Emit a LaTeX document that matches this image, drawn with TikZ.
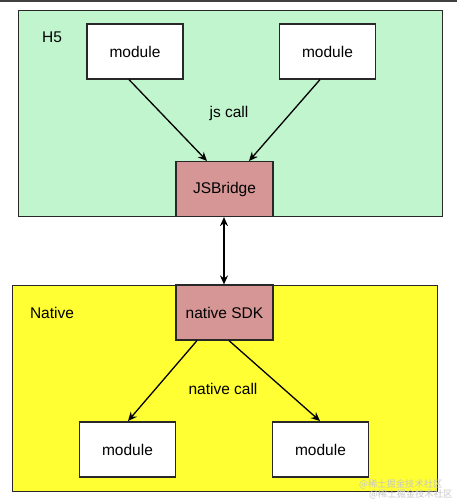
\documentclass[tikz,border=0pt]{standalone}
\usepackage{fontspec}
\setmainfont{Liberation Sans}
\newfontfamily\cjk{Noto Sans CJK SC}
\usetikzlibrary{arrows.meta}
\definecolor{hgreen}{RGB}{192,245,205}
\definecolor{nyellow}{RGB}{255,255,51}
\definecolor{bpink}{RGB}{214,150,150}
\definecolor{edgec}{RGB}{40,40,40}
\tikzset{
  region/.style={draw=edgec, line width=1.3pt, anchor=north west},
  modbox/.style={draw=edgec, fill=white, line width=1.2pt, minimum width=96pt, minimum height=55pt, inner sep=0pt, font=\fontsize{15.5}{18}\selectfont},
  bridgebox/.style={modbox, fill=bpink, minimum width=97pt},
  lbl/.style={font=\fontsize{15.5}{18}\selectfont, inner sep=0pt},
  conn/.style={line width=1.3pt, black, -{Stealth[length=9pt,width=8pt,inset=3pt]}},
  wmark/.style={font=\cjk\fontsize{9.3}{11}\selectfont, text=black!22, inner sep=0pt, anchor=west}
}
\begin{document}
\begin{tikzpicture}[x=1pt,y=-1pt]
\useasboundingbox (0,0) rectangle (457,504);
\fill[white] (0,0) rectangle (457,504);
\fill[black!75] (0,0) rectangle (457,2);
% regions
\node[region, fill=hgreen, minimum width=424pt, minimum height=206pt, inner sep=0pt] (h5) at (18,10) {};
\node[region, fill=nyellow, minimum width=425pt, minimum height=206pt, inner sep=0pt] (nat) at (12,285) {};
\node[lbl] (h5lbl) at (52,37) {H5};
\node[lbl] (natlbl) at (52,313) {Native};
% H5 modules
\node[modbox] (m1) at (135,51.5) {module};
\node[modbox] (m2) at (327.5,51.5) {module};
\node[bridgebox] (jsb) at (224.5,189) {JSBridge};
\node[lbl] (jscall) at (229,113) {js call};
% Native
\node[bridgebox] (sdk) at (224.5,312.5) {native SDK};
\node[modbox] (m3) at (127.5,449.5) {module};
\node[modbox] (m4) at (320.5,449.5) {module};
\node[lbl] (ncall) at (223,389) {native call};
% connectors
\draw[conn] (m1.south -| 129,0) -- (207,161);
\draw[conn] (m2.south -| 320,0) -- (249,161);
\draw[conn, {Stealth[length=9pt,width=8pt,inset=3pt]}-{Stealth[length=9pt,width=8pt,inset=3pt]}] (jsb.south -| 224,0) -- (sdk.north -| 224,0);
\draw[conn] (sdk.south -| 197,0) -- (128,421);
\draw[conn] (sdk.south -| 229,0) -- (320,421);
% watermark
\node[wmark] (wm1) at (359,484) {@稀土掘金技术社区};
\node[wmark] (wm2) at (369,494) {@稀土掘金技术社区};
\end{tikzpicture}
\end{document}
